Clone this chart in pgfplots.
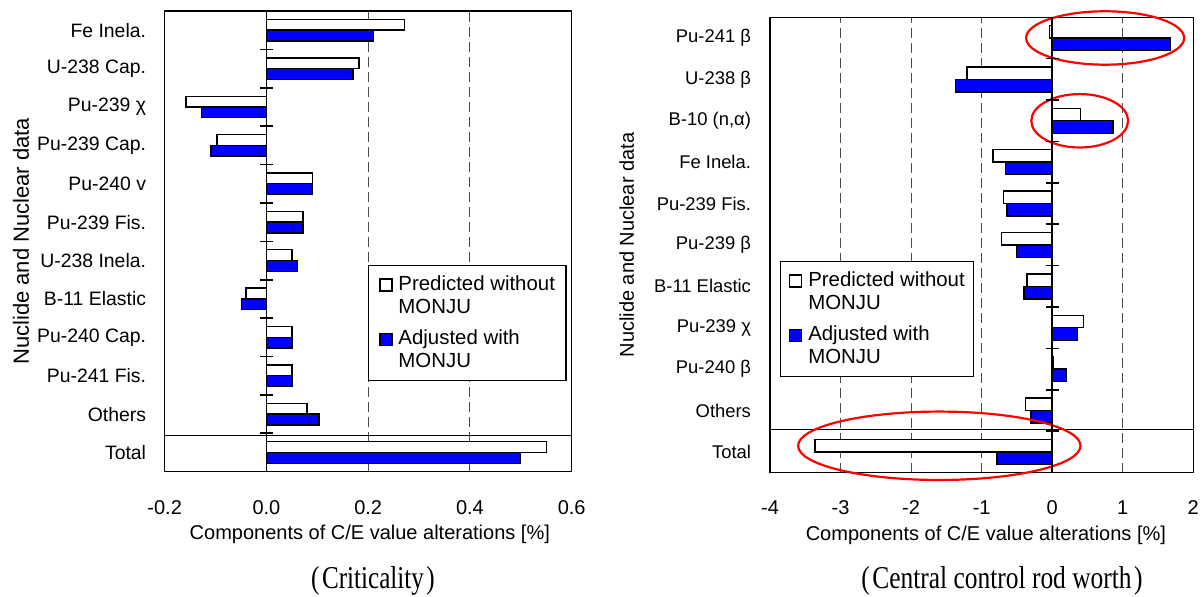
\documentclass[border=0pt]{standalone}
\usepackage{fontspec}
\setmainfont{Liberation Sans}
\newfontfamily\capfont{Liberation Serif}
\usepackage{graphicx}
\usepackage{pgfplots}
\pgfplotsset{compat=1.18}
\definecolor{barblue}{RGB}{0,0,255}

\pgfplotstableread{
y  pred    adj
0  0.550   0.499
1  0.080   0.103
2  0.050   0.050
3  0.050   0.050
4  -0.040  -0.049
5  0.050   0.061
6  0.072   0.072
7  0.091   0.091
8  -0.097  -0.109
9  -0.158  -0.128
10 0.182   0.170
11 0.271   0.211
}\crit

\pgfplotstableread{
y  pred   adj
0  -3.36  -0.78
1  -0.38  -0.30
2  0.02   0.20
3  0.44   0.36
4  -0.36  -0.40
5  -0.72  -0.51
6  -0.69  -0.64
7  -0.84  -0.66
8  0.40   0.86
9  -1.21  -1.37
10 -0.04  1.68
}\rod

\pgfplotsset{
  base/.style={
    scale only axis, anchor=south west,
    axis line style={black, line width=0.7pt},
    major tick length=0pt,
    xmajorgrids,
    grid style={black!70, line width=0.55pt, dash pattern=on 5pt off 2.5pt},
    clip=false,
    legend cell align=left,
    legend image code/.code={%
      \path[draw=none, fill=none] (0pt,-8.2pt) rectangle (9.35pt,8.2pt);
      \draw[##1, line width=0.6pt] (2.1pt,2.4pt) rectangle (8.1pt,8.4pt);},
  },
  predbar/.style={xbar, fill=white, draw=black, line width=0.7pt},
  adjbar/.style={xbar, fill=barblue, draw=black, line width=0.7pt},
  zeroaxis/.style={
    scale only axis, anchor=south west,
    axis x line=none, axis y line=center,
    axis line style={-, black, line width=0.8pt},
    xtick=\empty, yticklabels={},
    tick align=center, major tick length=6.5pt,
    tick style={black, line width=0.8pt},
  },
}

\begin{document}
\begin{tikzpicture}
\path[use as bounding box] (0,0) rectangle (602pt,298.5pt);

% ---------------- Left: Criticality ----------------
\begin{axis}[base,
  at={(82.35pt,62.65pt)}, width=203.5pt, height=230.35pt,
  xmin=-0.2, xmax=0.6, ymin=-0.5, ymax=11.5,
  xtick={-0.2,0,0.2,0.4,0.6},
  xticklabel style={font=\fontsize{10}{12}\selectfont, yshift=-11pt,
    /pgf/number format/.cd, fixed, fixed zerofill, precision=1, assume math mode=true},
  ytick={0,...,11},
  yticklabels={Total, Others, Pu-241 Fis., Pu-240 Cap., B-11 Elastic, U-238 Inela., Pu-239 Fis., Pu-240 v, Pu-239 Cap., Pu-239 χ, U-238 Cap., Fe Inela.},
  yticklabel style={font=\fontsize{9.7}{11}\selectfont, xshift=-5.8pt},
  xlabel={Components of C/E value alterations [\%]},
  xlabel style={font=\fontsize{10}{12}\selectfont, at={(axis description cs:0.504,0)}, anchor=center, yshift=-31.5pt},
  ylabel={Nuclide and Nuclear data},
  ylabel style={font=\fontsize{11}{12}\selectfont, at={(axis description cs:-0.353,0.5)}, anchor=center},
  legend style={at={(rel axis cs:0.5,0.449)}, anchor=north west, draw=black, line width=0.6pt,
    font=\fontsize{10.2}{11.4}\selectfont, cells={align=left}, row sep=2.8pt, inner xsep=3.5pt, inner ysep=3pt},
]
\addplot[predbar, bar width=0.28, bar shift=0.14] table[x=pred, y=y] {\crit};
\addlegendentry{Predicted without\\MONJU}
\addplot[adjbar, bar width=0.28, bar shift=-0.14] table[x=adj, y=y] {\crit};
\addlegendentry{Adjusted with\\MONJU}
\draw[black, line width=0.7pt] (axis cs:-0.2,0.44) -- (axis cs:0.6,0.44);
\end{axis}
\begin{axis}[zeroaxis,
  at={(82.35pt,62.65pt)}, width=203.5pt, height=230.35pt,
  xmin=-0.2, xmax=0.6, ymin=-0.5, ymax=11.5,
  ytick={0.5,1.5,...,10.5}]
\end{axis}

% ---------------- Right: Central control rod worth ----------------
\begin{axis}[base,
  at={(385pt,62.15pt)}, width=211.65pt, height=227.7pt,
  xmin=-4, xmax=2, ymin=-0.5, ymax=10.5,
  xtick={-4,-3,-2,-1,0,1,2},
  xticklabel style={font=\fontsize{10}{12}\selectfont, yshift=-10.5pt,
    /pgf/number format/assume math mode=true},
  ytick={0,...,10},
  yticklabels={Total, Others, Pu-240 β, Pu-239 χ, B-11 Elastic, Pu-239 β, Pu-239 Fis., Fe Inela., {B-10 (n,α)}, U-238 β, Pu-241 β},
  yticklabel style={font=\fontsize{9.2}{11}\selectfont, xshift=-6pt},
  xlabel={Components of C/E value alterations [\%]},
  xlabel style={font=\fontsize{10}{12}\selectfont, at={(axis description cs:0.51,0)}, anchor=center, yshift=-31.5pt},
  ylabel={Nuclide and Nuclear data},
  ylabel style={font=\fontsize{10}{12}\selectfont, at={(axis description cs:-0.3385,0.5)}, anchor=center},
  legend style={at={(rel axis cs:0.0236,0.4649)}, anchor=north west, draw=black, line width=0.6pt,
    font=\fontsize{10.2}{11.4}\selectfont, cells={align=left}, row sep=2.8pt, inner xsep=2.5pt, inner ysep=3pt},
]
\addplot[predbar, bar width=0.30, bar shift=0.15] table[x=pred, y=y] {\rod};
\addlegendentry{Predicted without\\MONJU}
\addplot[adjbar, bar width=0.30, bar shift=-0.15] table[x=adj, y=y] {\rod};
\addlegendentry{Adjusted with\\MONJU}
\draw[black, line width=0.7pt] (axis cs:-4,0.55) -- (axis cs:2,0.55);
\draw[red, line width=1.1pt] (axis cs:0.75,10) ellipse [x radius=39.5pt, y radius=13.35pt];
\draw[red, line width=1.1pt] (axis cs:0.39,8) ellipse [x radius=24.2pt, y radius=13.35pt];
\draw[red, line width=1.1pt] (axis cs:-1.6,0.15) ellipse [x radius=70.6pt, y radius=17.1pt];
\end{axis}
\begin{axis}[zeroaxis,
  at={(385pt,62.15pt)}, width=211.65pt, height=227.7pt,
  xmin=-4, xmax=2, ymin=-0.5, ymax=10.5,
  ytick={0.5,1.5,...,9.5}]
\end{axis}

% captions
\node[font=\capfont\fontsize{15.9}{16}\selectfont] at (186.5pt,8pt) {\scalebox{0.79}[1]{(\hspace{0.1em}Criticality\hspace{0.1em})}};
\node[font=\capfont\fontsize{15.9}{16}\selectfont] at (501pt,8pt) {\scalebox{0.8}[1]{(\hspace{0.1em}Central control rod worth\hspace{0.1em})}};
\end{tikzpicture}
\end{document}
